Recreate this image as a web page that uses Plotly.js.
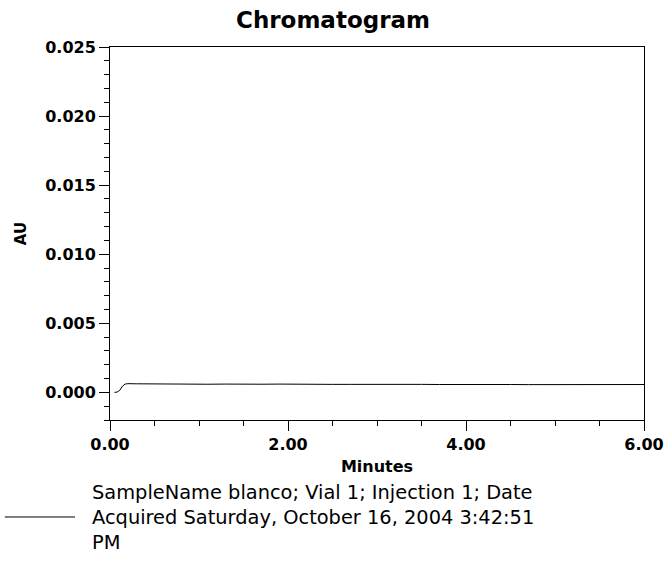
<!DOCTYPE html>
<html>
<head>
<meta charset="utf-8">
<script src="https://cdn.plot.ly/plotly-3.0.1.min.js"></script>
<style>html,body{margin:0;padding:0;background:#fff;}#chart{width:666px;height:561px;}</style>
</head>
<body>
<div id="chart"></div>
<script>
const minutes = [0.05, 0.08, 0.11, 0.14, 0.17, 0.2, 0.3, 0.5, 0.7, 0.9, 1.1, 1.3, 1.5, 1.7, 1.9, 2.1, 2.3, 2.5, 2.7, 2.9, 3.1, 3.3, 3.5, 3.7, 3.9, 4.1, 4.3, 4.5, 4.7, 4.9, 5.1, 5.3, 5.5, 5.7, 5.9, 6.0];
const au = [0.0, 0.00002, 0.00015, 0.00045, 0.0006, 0.00063, 0.00062, 0.0006, 0.00062, 0.0006, 0.00059, 0.0006, 0.00058, 0.00059, 0.0006, 0.00058, 0.00057, 0.00058, 0.00058, 0.00059, 0.00057, 0.00056, 0.00058, 0.00057, 0.00058, 0.00057, 0.00056, 0.00057, 0.00056, 0.00057, 0.00056, 0.00056, 0.00057, 0.00056, 0.00057, 0.00057];
const legendLines = ["SampleName blanco; Vial 1; Injection 1; Date", "Acquired Saturday, October 16, 2004 3:42:51", "PM"];
const yTicks = [0.000, 0.005, 0.010, 0.015, 0.020, 0.025];
const xTicks = [0, 2, 4, 6];

const tickFont = {family: "DejaVu Sans", size: 16, color: "#000", weight: "bold"};

const trace = {
  x: minutes, y: au, type: "scatter", mode: "lines",
  line: {color: "#000", width: 1},
  name: legendLines.join("<br>"),
  showlegend: false,
  hoverinfo: "skip"
};

const layout = {
  width: 666, height: 561,
  margin: {l: 110, r: 22, t: 47, b: 141},
  paper_bgcolor: "#fff", plot_bgcolor: "#fff",
  title: {text: "Chromatogram", x: 0.5, xref: "container", xanchor: "center", y: 1 - 20/561, yanchor: "middle",
          font: {family: "DejaVu Sans", size: 23, color: "#000", weight: "bold"}},
  xaxis: {
    range: [0, 6], tickvals: xTicks, tickformat: ".2f",
    ticks: "outside", ticklen: 10, tickwidth: 1, tickcolor: "#000",
    showline: true, linecolor: "#000", linewidth: 1, mirror: true,
    showgrid: false, zeroline: false, tickfont: tickFont,
    minor: {dtick: 0.5, tick0: 0, ticks: "outside", ticklen: 5, tickcolor: "#000", tickwidth: 1, showgrid: false},
    title: {text: "Minutes", standoff: 7, font: {family: "DejaVu Sans", size: 16, color: "#000", weight: "bold"}}
  },
  yaxis: {
    range: [-0.002, 0.025], tickvals: yTicks, tickformat: ".3f",
    ticks: "outside", ticklen: 10, tickwidth: 1, tickcolor: "#000",
    showline: true, linecolor: "#000", linewidth: 1, mirror: true,
    showgrid: false, zeroline: false, tickfont: tickFont,
    minor: {dtick: 0.001, tick0: 0, ticks: "outside", ticklen: 5, tickcolor: "#000", tickwidth: 1, showgrid: false},
    title: {text: "AU", standoff: 14, font: {family: "DejaVu Sans", size: 15, color: "#000", weight: "bold"}}
  },
  shapes: [{type: "line", xref: "paper", yref: "paper",
            x0: -0.197, x1: -0.0655, y0: -0.26, y1: -0.26,
            line: {color: "#000", width: 1}}],
  annotations: [{xref: "paper", yref: "paper", x: -0.0375, y: -0.157,
                 xanchor: "left", yanchor: "top", align: "left", showarrow: false,
                 text: legendLines.join("<br>"),
                 font: {family: "DejaVu Sans", size: 19.4, color: "#000"}}]
};

Plotly.newPlot("chart", [trace], layout, {displayModeBar: false, staticPlot: true});
</script>
</body>
</html>
